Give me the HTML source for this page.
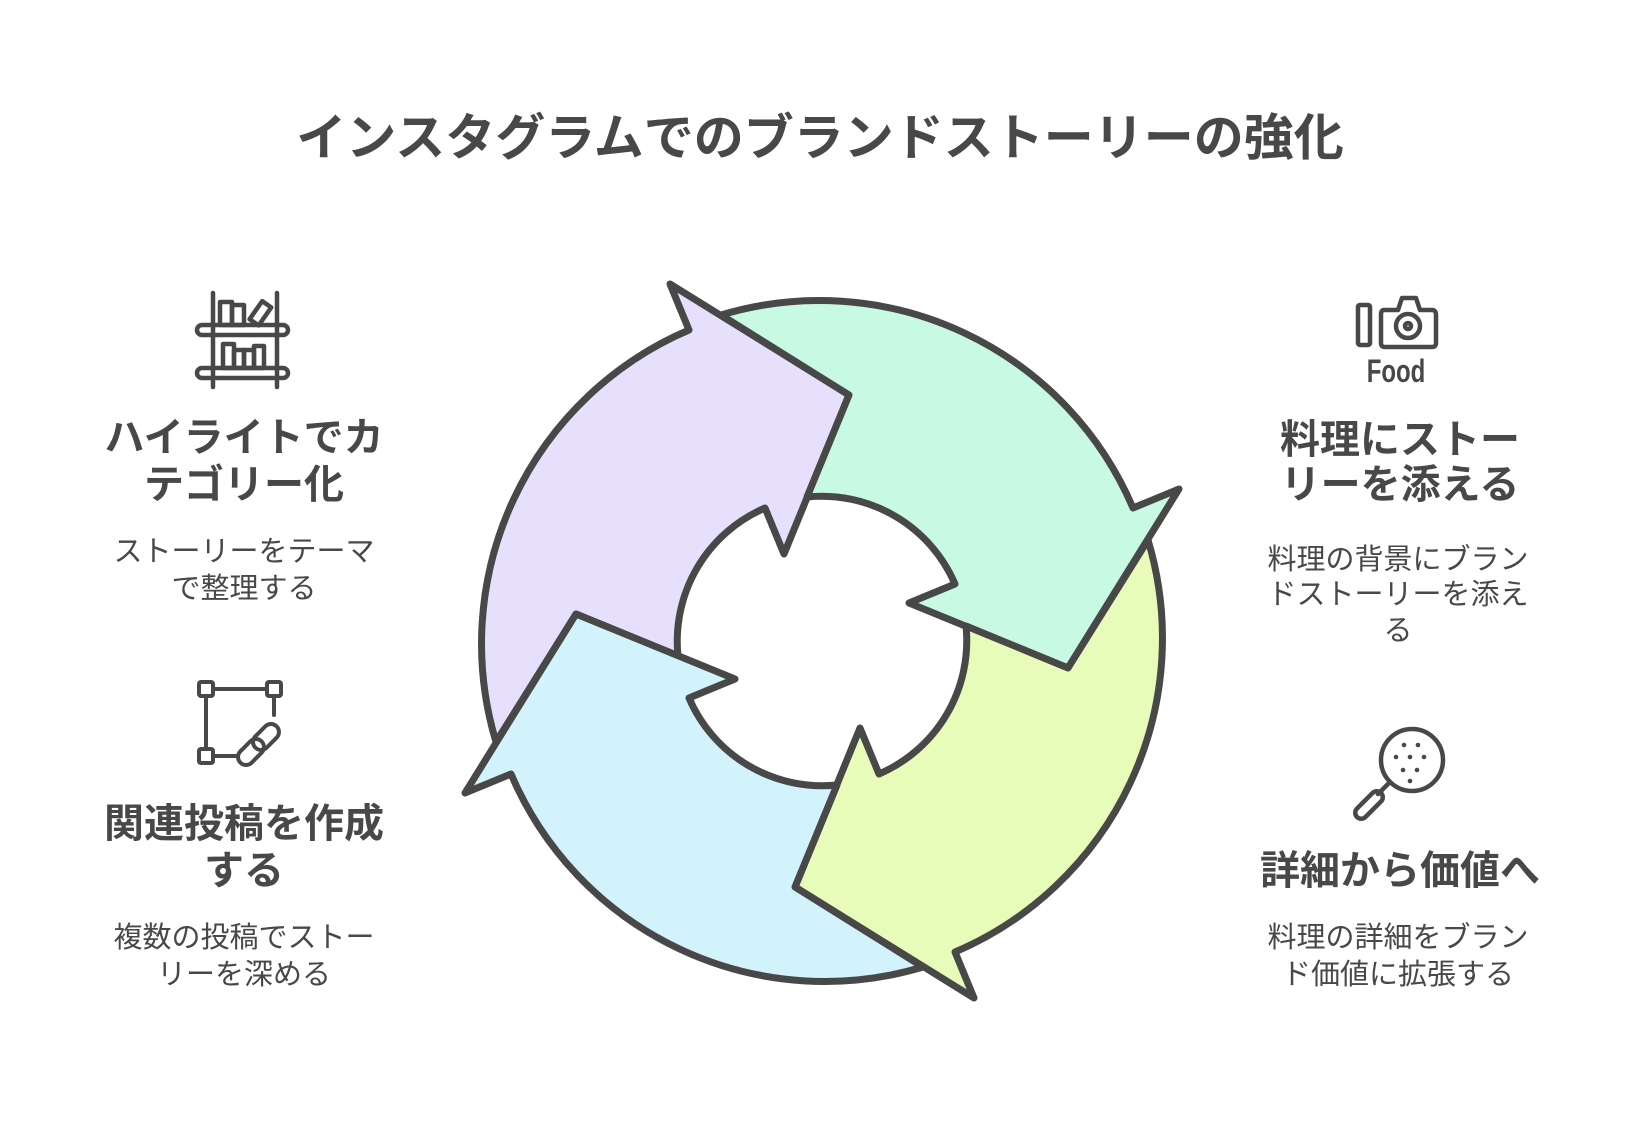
<!DOCTYPE html>
<html><head><meta charset="utf-8"><style>
html,body{margin:0;padding:0;background:#fff;}
svg text{font-family:"Liberation Sans","Noto Sans CJK JP",sans-serif;fill:#484848;}
</style></head><body>
<svg width="1640" height="1136" viewBox="0 0 1640 1136" xmlns="http://www.w3.org/2000/svg">
<rect width="1640" height="1136" fill="#fff"/>
<text x="820" y="155" font-size="50" font-weight="bold" text-anchor="middle">インスタグラムでのブランドストーリーの強化</text>

<defs>
<path id="seg" d="M -326 101 L -246 -27 L -144 15 A 145 145 0 0 1 -57 -133 L -38 -87 L 27 -246 L -152 -357 L -133 -311 A 341 341 0 0 0 -326 101 Z"/>
</defs>
<g stroke="#484848" stroke-width="7" stroke-linejoin="round" stroke-linecap="round">
<use href="#seg" transform="translate(822,641)" fill="#e6e0fd"/>
<use href="#seg" transform="translate(822,641) rotate(90)" fill="#c8fae3"/>
<use href="#seg" transform="translate(822,641) rotate(180)" fill="#e8fcb9"/>
<use href="#seg" transform="translate(822,641) rotate(270)" fill="#d2f2fc"/>
</g>

<!-- bookshelf icon -->
<g fill="none" stroke="#484848" stroke-width="4.5" stroke-linecap="round" stroke-linejoin="round">
<line x1="213" y1="293" x2="213" y2="387"/><line x1="277" y1="293" x2="277" y2="387"/>
<rect x="197" y="325" width="91" height="10" rx="5"/>
<rect x="197" y="368" width="91" height="10" rx="5"/>
<rect x="220" y="302" width="12" height="23"/><rect x="232" y="305" width="12" height="20"/>
<rect x="255" y="302" width="11" height="22" transform="rotate(35 260 313)"/>
<rect x="223" y="344" width="11" height="24"/><rect x="234" y="350" width="10" height="18"/><rect x="244" y="350" width="10" height="18"/><rect x="254" y="346" width="10" height="22"/>
</g>
<text x="244" y="451" font-size="40" font-weight="bold" text-anchor="middle">ハイライトでカ</text>
<text x="244" y="498" font-size="40" font-weight="bold" text-anchor="middle">テゴリー化</text>
<text x="244" y="561" font-size="29" text-anchor="middle">ストーリーをテーマ</text>
<text x="244" y="598" font-size="29" text-anchor="middle">で整理する</text>

<!-- link icon -->
<g fill="none" stroke="#484848" stroke-width="4" stroke-linecap="round" stroke-linejoin="round">
<rect x="199" y="682" width="14" height="14" rx="2"/><rect x="267" y="682" width="14" height="14" rx="2"/>
<rect x="199" y="749" width="14" height="14" rx="2"/>
<line x1="213" y1="689" x2="267" y2="689"/><line x1="206" y1="696" x2="206" y2="749"/>
<line x1="274" y1="696" x2="274" y2="715"/><line x1="213" y1="756" x2="238" y2="756"/>
<rect x="243" y="737" width="16" height="30" rx="8" transform="rotate(45 251 752)"/>
<rect x="258" y="722" width="16" height="30" rx="8" transform="rotate(45 266 737)"/>
</g>
<text x="244" y="837" font-size="40" font-weight="bold" text-anchor="middle">関連投稿を作成</text>
<text x="244" y="884" font-size="40" font-weight="bold" text-anchor="middle">する</text>
<text x="244" y="947" font-size="29" text-anchor="middle">複数の投稿でストー</text>
<text x="244" y="984" font-size="29" text-anchor="middle">リーを深める</text>

<!-- camera icon -->
<g fill="none" stroke="#484848" stroke-width="4.5" stroke-linejoin="round">
<rect x="1358" y="305" width="12" height="40" rx="2"/>
<path d="M1384 310 L1398 310 L1402 298 L1416 298 L1420 310 L1432 310 Q1436 310 1436 315 L1436 343 Q1436 347 1432 347 L1385 347 Q1381 347 1381 343 L1381 315 Q1381 310 1384 310 Z"/>
<circle cx="1408" cy="326" r="12"/><circle cx="1408" cy="326" r="3"/>
</g>
<text x="1396" y="382" font-size="32" font-weight="bold" text-anchor="middle" transform="translate(1396 0) scale(0.75 1) translate(-1396 0)">Food</text>
<text x="1400" y="453" font-size="40" font-weight="bold" text-anchor="middle">料理にストー</text>
<text x="1400" y="498" font-size="40" font-weight="bold" text-anchor="middle">リーを添える</text>
<text x="1398" y="569" font-size="29" text-anchor="middle">料理の背景にブラン</text>
<text x="1398" y="604" font-size="29" text-anchor="middle">ドストーリーを添え</text>
<text x="1398" y="640" font-size="29" text-anchor="middle">る</text>

<!-- magnifier icon -->
<g fill="none" stroke="#484848" stroke-width="4.5" stroke-linecap="round">
<circle cx="1412" cy="760" r="31"/>
<line x1="1390" y1="782" x2="1378" y2="794"/>
<rect x="1352" y="799" width="34" height="12" rx="6" transform="rotate(-45 1369 805)"/>
</g>
<g fill="#484848">
<circle cx="1404" cy="745" r="2.3"/><circle cx="1418" cy="745" r="2.3"/>
<circle cx="1396" cy="757" r="2.3"/><circle cx="1410" cy="757" r="2.3"/><circle cx="1424" cy="757" r="2.3"/>
<circle cx="1403" cy="770" r="2.3"/><circle cx="1417" cy="770" r="2.3"/><circle cx="1410" cy="781" r="2.3"/>
</g>
<text x="1400" y="884" font-size="40" font-weight="bold" text-anchor="middle">詳細から価値へ</text>
<text x="1398" y="947" font-size="29" text-anchor="middle">料理の詳細をブラン</text>
<text x="1398" y="984" font-size="29" text-anchor="middle">ド価値に拡張する</text>
</svg>
</body></html>
